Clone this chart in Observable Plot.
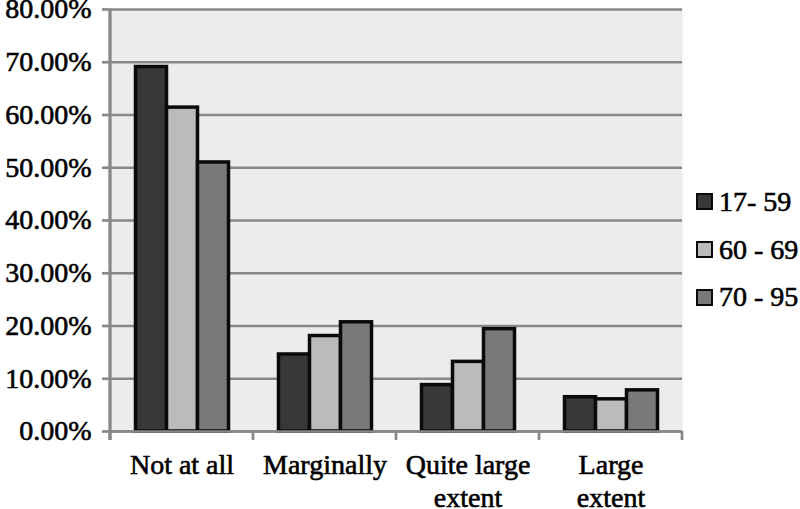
<!DOCTYPE html>
<html>
<head>
<meta charset="utf-8">
<script src="https://cdn.jsdelivr.net/npm/d3@7"></script>
<script src="https://cdn.jsdelivr.net/npm/@observablehq/plot@0.6"></script>
<style>
  body { margin: 0; background: #fff; }
  #wrap { position: relative; width: 800px; height: 509px; font-family: "Liberation Serif", "Times New Roman", serif; color: #000; }
  #wrap svg { position: absolute; left: 0; top: 0; }
  #wrap svg text { stroke: #000; stroke-width: 0.6px; paint-order: stroke; }
  #legend { position: absolute; left: 696px; top: 178px; }
  .row { display: flex; align-items: center; height: 47.7px; font-size: 28px; white-space: nowrap; -webkit-text-stroke: 0.6px #000; }
  .sw { width: 13px; height: 13px; border: 2.5px solid #0a0a0a; margin-right: 6px; }
</style>
</head>
<body>
<div id="wrap"></div>
<script>
const categories = ["Not at all", "Marginally", "Quite large extent", "Large extent"];
const categoryLabels = ["Not at all", "Marginally", "Quite large\nextent", "Large\nextent"];
const series = ["17- 59", "60 - 69", "70 - 95"];
const age17to59 = [69.1, 14.6, 8.8, 6.5];
const age60to69 = [61.4, 18.1, 13.2, 6.1];
const age70to95 = [51.0, 20.7, 19.4, 7.8];
const seriesColors = ["#383838", "#bbbbbb", "#797979"];
const yTicks = [0, 10, 20, 30, 40, 50, 60, 70, 80];

const seriesValues = [age17to59, age60to69, age70to95];
const data = categories.flatMap((c, i) =>
  series.map((s, j) => ({category: c, series: s, value: seriesValues[j][i]}))
);

const gridColor = "#888888";

const plot = Plot.plot({
  width: 800,
  height: 509,
  marginLeft: 108.5,
  marginRight: 117.5,
  marginTop: 9,
  marginBottom: 78,
  style: {fontFamily: '"Liberation Serif", "Times New Roman", serif', fontSize: "28px", background: "transparent", color: "#000"},
  fx: {domain: categories, padding: 0, label: null, axis: null},
  x: {domain: series, paddingInner: 0, paddingOuter: 0.78, axis: null},
  y: {domain: [0, 80], label: null},
  color: {domain: series, range: seriesColors},
  marks: [
    Plot.frame({fill: "#ececec", stroke: null}),
    Plot.gridY(yTicks, {stroke: gridColor, strokeOpacity: 1, strokeWidth: 2.7}),
    Plot.axisY(yTicks, {
      tickFormat: d => d.toFixed(2) + "%",
      tickSize: 8, tickPadding: 11, stroke: gridColor, strokeWidth: 2.7,
      fontSize: 28, label: null
    }),
    Plot.axisFx({
      anchor: "bottom",
      tickSize: 0, tickPadding: 19, fontSize: 28, lineHeight: 1.17, label: null,
      tickFormat: d => categoryLabels[categories.indexOf(d)]
    }),
    Plot.barY(data, {fx: "category", x: "series", y: "value", fill: "series", stroke: "#0a0a0a", strokeWidth: 3.5}),
    Plot.ruleY([0], {stroke: gridColor, strokeWidth: 2.7})
  ]
});

// axis line and category boundary ticks, positioned from Plot's own scales
const fxS = plot.scale("fx");
const yS = plot.scale("y");
const bounds = categories.map(c => fxS.apply(c));
bounds.push(fxS.apply(categories[categories.length - 1]) + fxS.bandwidth);
const y0 = yS.apply(0), yTop = yS.apply(80);
const g = d3.select(plot).append("g").attr("stroke", gridColor);
bounds.forEach(x => {
  g.append("line").attr("x1", x).attr("x2", x).attr("y1", y0).attr("y2", y0 + 9).attr("stroke-width", 2.7);
});
g.append("line").attr("x1", bounds[0]).attr("x2", bounds[0]).attr("y1", yTop).attr("y2", y0 + 9).attr("stroke-width", 3.3);

const wrap = document.getElementById("wrap");
wrap.appendChild(plot);

const legend = document.createElement("div");
legend.id = "legend";
series.forEach((s, j) => {
  const row = document.createElement("div");
  row.className = "row";
  const sw = document.createElement("span");
  sw.className = "sw";
  sw.style.background = seriesColors[j];
  const t = document.createElement("span");
  t.textContent = s;
  row.appendChild(sw);
  row.appendChild(t);
  legend.appendChild(row);
});
wrap.appendChild(legend);
</script>
</body>
</html>
